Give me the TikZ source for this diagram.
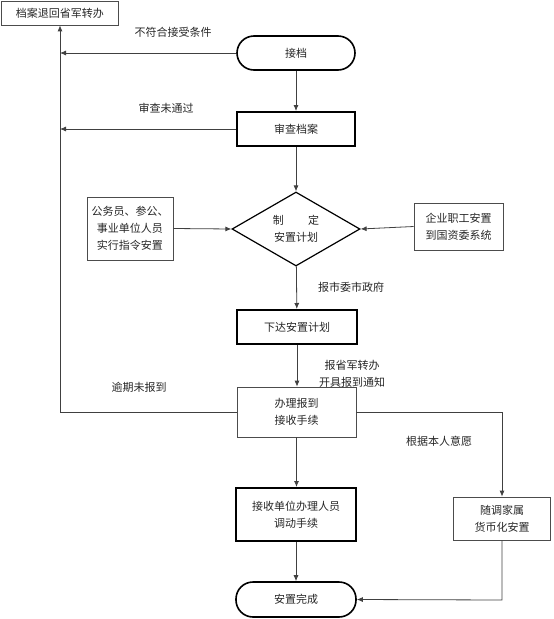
\documentclass[tikz,border=0pt]{standalone}
\usepackage{fontspec}
\newfontfamily\cjk{Noto Sans CJK SC}
\usetikzlibrary{shapes.geometric,arrows.meta}
\begin{document}
\begin{tikzpicture}[x=1pt,y=-1pt,
  font=\cjk\fontsize{11}{17}\selectfont,
  every node/.style={text=black!85},
  thinbox/.style={draw=black!70, line width=0.7pt, rectangle, align=center, inner sep=0pt},
  thickbox/.style={draw=black, line width=2pt, rectangle, align=center, inner sep=0pt},
  term/.style={draw=black, line width=1.6pt, rectangle, rounded corners=17pt, align=center, inner sep=0pt},
  decide/.style={draw=black, line width=1.2pt, diamond, align=center, inner sep=0pt},
  conn/.style={draw=black!75, line width=0.8pt, -{Latex[length=6pt,width=5pt]}},
  plain/.style={draw=black!75, line width=0.8pt},
  lab/.style={align=center, inner sep=0pt}]
\useasboundingbox (0,0) rectangle (554,619);

\node[thinbox, minimum width=117pt, minimum height=24pt] (back) at (60,13) {档案退回省军转办};
\node[term, minimum width=118pt, minimum height=34pt] (jd) at (296,53) {接档};
\node[thickbox, minimum width=118pt, minimum height=34pt] (sc) at (296,129) {审查档案};
\node[decide, minimum width=128pt, minimum height=74pt] (zd) at (296,229) {制\hspace{2.2em}定\\安置计划};
\node[thinbox, minimum width=86pt, minimum height=63pt] (lb) at (130,228.5) {公务员、参公、\\事业单位人员\\实行指令安置};
\node[thinbox, minimum width=89pt, minimum height=47pt] (rb) at (458.5,226.5) {企业职工安置\\到国资委系统};
\node[thickbox, minimum width=120pt, minimum height=34pt] (xd) at (297,327) {下达安置计划};
\node[thinbox, minimum width=119pt, minimum height=50pt] (bl) at (296.5,412) {办理报到\\接收手续};
\node[thickbox, minimum width=120pt, minimum height=53pt] (js) at (296,514.5) {接收单位办理人员\\调动手续};
\node[thinbox, minimum width=97pt, minimum height=43pt] (sz) at (502,518.5) {随调家属\\货币化安置};
\node[term, minimum width=120pt, minimum height=35pt] (wc) at (296,599.5) {安置完成};

\coordinate (c1) at (60,412);
\coordinate (c2) at (502,412);
\coordinate (c3) at (502,600);

\node[lab] (l1) at (173,32) {不符合接受条件};
\node[lab] (l2) at (166,108) {审查未通过};
\node[lab] (l3) at (351,287) {报市委市政府};
\node[lab] (l4) at (352,373.5) {报省军转办\\开具报到通知};
\node[lab] (l5) at (139,387) {逾期未报到};
\node[lab] (l6) at (439,441) {根据本人意愿};

\draw[conn] (bl.west) -- (c1) -- (back.south);
\draw[conn] (jd.west) -- (jd.west -| c1);
\draw[conn] (sc.west) -- (sc.west -| c1);
\draw[conn] (jd) -- (sc);
\draw[conn] (sc) -- (zd);
\draw[conn] (lb.east) -- (zd.west);
\draw[conn] (rb.west) -- (zd.east);
\draw[conn] (zd) -- (xd);
\draw[conn] (xd) -- (xd |- bl.north);
\draw[conn] (bl) -- (bl |- js.north);
\draw[conn] (js) -- (js |- wc.north);
\draw[conn] (bl.east) -- (c2) -- (sz.north);
\draw[conn] (sz.south) -- (c3) -- (wc.east);
\end{tikzpicture}
\end{document}
